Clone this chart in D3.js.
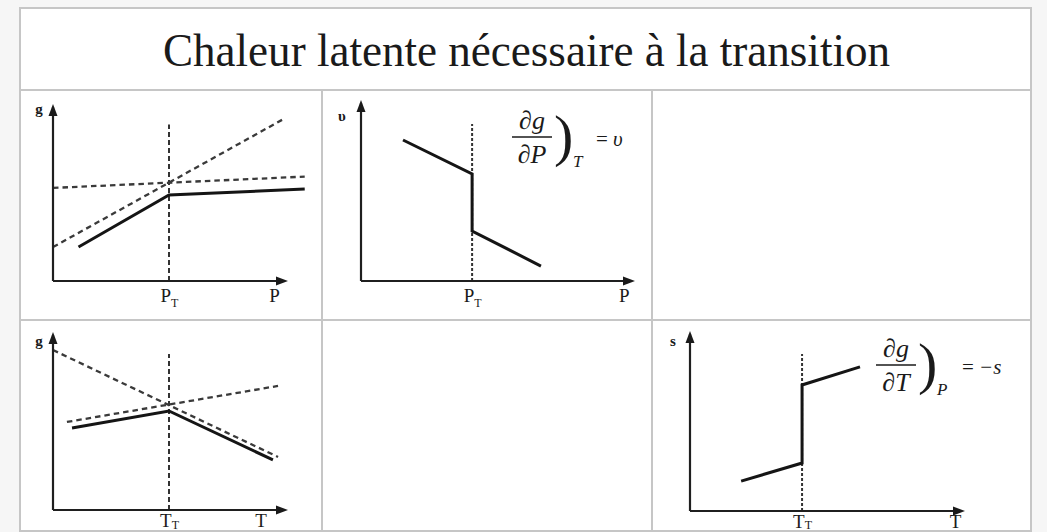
<!DOCTYPE html>
<html>
<head>
<meta charset="utf-8">
<script src="https://cdn.jsdelivr.net/npm/d3@7"></script>
<style>
  html, body { margin: 0; padding: 0; background: #f6f6f6; }
  svg { display: block; }
  text { font-family: "Liberation Serif", "DejaVu Serif", serif; fill: #1a1a1a; }
</style>
</head>
<body>
<svg id="chart" width="1047" height="532"></svg>
<script>
// ---- content -------------------------------------------------------------
const title = "Chaleur latente nécessaire à la transition";

// g(P) at constant T: the two phase branches and the stable branch
const gP_phase1 = [[0, 1.95], [9.9, 9.28]];
const gP_phase2 = [[0, 5.35], [10.85, 6.0]];
const gP_stable = [[1.1, 1.95], [5.0, 4.94], [10.85, 5.29]];
const gP_transition = 5.0;
const gP_guideTop = 9.0;
const gP_tickValues = [5.0, 9.53];
const gP_tickLabels = [["P", "T"], ["P", ""]];

// v(P): jump of the volume at the transition
const vP_volume = [[1.55, 7.92], [4.1, 6.01], [4.1, 2.81], [6.64, 0.84]];
const vP_transition = 4.1;
const vP_guideTop = 8.82;
const vP_tickValues = [4.1, 9.7];
const vP_tickLabels = [["P", "T"], ["P", ""]];

// g(T) at constant P
const gT_phase1 = [[0, 9.14], [9.7, 3.03]];
const gT_phase2 = [[0.6, 5.03], [9.7, 7.09]];
const gT_stable = [[0.82, 4.69], [5.0, 5.66], [9.48, 2.86]];
const gT_transition = 5.0;
const gT_guideTop = 8.91;
const gT_tickValues = [5.0, 8.95];
const gT_tickLabels = [["T", "T"], ["T", ""]];

// s(T): jump of the entropy at the transition
const sT_entropy = [[1.88, 1.69], [4.12, 2.71], [4.12, 7.12], [6.25, 8.14]];
const sT_transition = 4.12;
const sT_guideTop = 8.87;
const sT_tickValues = [4.12, 9.74];
const sT_tickLabels = [["T", "T"], ["T", ""]];

// ---- drawing -------------------------------------------------------------
const svg = d3.select("#chart");

const defs = svg.append("defs");
defs.append("marker")
  .attr("id", "arrow")
  .attr("viewBox", "0 -5 12 10")
  .attr("refX", 9).attr("refY", 0)
  .attr("markerWidth", 12).attr("markerHeight", 10)
  .attr("markerUnits", "userSpaceOnUse")
  .attr("orient", "auto")
  .append("path").attr("d", "M0,-4.5L12,0L0,4.5Z").attr("fill", "#1a1a1a");

// table frame
const colX = [20, 322, 652, 1031];
const rowY = [8, 90, 320, 531];
const grid = svg.append("g");
grid.append("rect")
  .attr("x", colX[0]).attr("y", rowY[0])
  .attr("width", colX[3] - colX[0]).attr("height", rowY[3] - rowY[0])
  .attr("fill", "#ffffff").attr("stroke", "#c6c6c6").attr("stroke-width", 2);
rowY.slice(1, 3).forEach(y => grid.append("line")
  .attr("x1", colX[0]).attr("x2", colX[3]).attr("y1", y).attr("y2", y)
  .attr("stroke", "#c6c6c6").attr("stroke-width", 2));
colX.slice(1, 3).forEach(x => grid.append("line")
  .attr("x1", x).attr("x2", x).attr("y1", rowY[1]).attr("y2", rowY[3])
  .attr("stroke", "#c6c6c6").attr("stroke-width", 2));

svg.append("text")
  .attr("x", 526.5).attr("y", 66)
  .attr("text-anchor", "middle")
  .attr("font-size", 47)
  .attr("textLength", 727).attr("lengthAdjust", "spacingAndGlyphs")
  .text(title);

const line = (x, y) => d3.line().x(d => x(d[0])).y(d => y(d[1]));

function panel(cfg) {
  const g = svg.append("g");
  const x = d3.scaleLinear().domain([0, 10]).range([cfg.ox, cfg.xEnd]);
  const y = d3.scaleLinear().domain([0, 10]).range([cfg.oy, cfg.yTop]);

  // tick labels through a bottom axis (no tick marks, no domain)
  const ax = g.append("g")
    .attr("transform", `translate(0,${cfg.oy})`)
    .call(d3.axisBottom(x).tickValues(cfg.tickValues).tickSize(0).tickPadding(cfg.tickPad).tickFormat(""));
  ax.select(".domain").remove();
  ax.selectAll(".tick text")
    .attr("font-size", 19).attr("font-family", null).attr("fill", "#1a1a1a")
    .each(function (d, i) {
      const t = d3.select(this);
      const lab = cfg.tickLabels[i];
      t.append("tspan").text(lab[0]);
      if (lab[1]) t.append("tspan").attr("font-size", 12).attr("dy", cfg.subShift).text(lab[1]);
    });

  // transition guide
  g.append("line")
    .attr("x1", x(cfg.transition)).attr("x2", x(cfg.transition))
    .attr("y1", y(0)).attr("y2", y(cfg.guideTop))
    .attr("stroke", "#333").attr("stroke-width", 2)
    .attr("stroke-dasharray", cfg.guideDash);

  // dashed phase branches
  (cfg.dashed || []).forEach(data => g.append("path")
    .attr("d", line(x, y)(data))
    .attr("fill", "none").attr("stroke", "#3a3a3a").attr("stroke-width", 2.3)
    .attr("stroke-dasharray", "5.5,4"));

  // solid curve
  g.append("path")
    .attr("d", line(x, y)(cfg.solid))
    .attr("fill", "none").attr("stroke", "#151515").attr("stroke-width", 3)
    .attr("stroke-linejoin", "miter");

  // axes with arrowheads
  g.append("path")
    .attr("d", line(x, y)([[0, 0], [0, 10]]))
    .attr("stroke", "#1f1f1f").attr("stroke-width", 2.2).attr("fill", "none")
    .attr("marker-end", "url(#arrow)");
  g.append("path")
    .attr("d", line(x, y)([[0, 0], [10, 0]]))
    .attr("stroke", "#1f1f1f").attr("stroke-width", 2.2).attr("fill", "none")
    .attr("marker-end", "url(#arrow)");

  g.append("text")
    .attr("x", cfg.yLabelPos[0]).attr("y", cfg.yLabelPos[1])
    .attr("text-anchor", "middle").attr("font-size", 15).attr("font-weight", "bold")
    .text(cfg.yLabel);
  return g;
}

panel({
  ox: 53, oy: 281, xEnd: 285, yTop: 107,
  solid: gP_stable, dashed: [gP_phase1, gP_phase2],
  transition: gP_transition, guideTop: gP_guideTop, guideDash: "5,3",
  tickValues: gP_tickValues, tickLabels: gP_tickLabels, tickPad: 8, subShift: 5,
  yLabel: "g", yLabelPos: [39, 114]
});

const p2 = panel({
  ox: 361, oy: 281, xEnd: 632, yTop: 103,
  solid: vP_volume,
  transition: vP_transition, guideTop: vP_guideTop, guideDash: "3,2",
  tickValues: vP_tickValues, tickLabels: vP_tickLabels, tickPad: 8, subShift: 5,
  yLabel: "υ", yLabelPos: [342, 121]
});

panel({
  ox: 53, oy: 510, xEnd: 285, yTop: 335,
  solid: gT_stable, dashed: [gT_phase1, gT_phase2],
  transition: gT_transition, guideTop: gT_guideTop, guideDash: "5,3",
  tickValues: gT_tickValues, tickLabels: gT_tickLabels, tickPad: 4, subShift: 2,
  yLabel: "g", yLabelPos: [39, 346]
});

const p4 = panel({
  ox: 690, oy: 511, xEnd: 962, yTop: 334,
  solid: sT_entropy,
  transition: sT_transition, guideTop: sT_guideTop, guideDash: "3,2",
  tickValues: sT_tickValues, tickLabels: sT_tickLabels, tickPad: 3, subShift: 2,
  yLabel: "s", yLabelPos: [673, 346]
});

// partial derivative formulas
function derivative(g, o) {
  const f = g.append("g").attr("transform", `translate(${o.x},${o.y})`);
  f.append("text").attr("x", 0).attr("y", -8).attr("text-anchor", "middle")
    .attr("font-size", 26).attr("font-style", "italic").text("∂g");
  f.append("line").attr("x1", -20).attr("x2", 20).attr("y1", 0).attr("y2", 0)
    .attr("stroke", "#1a1a1a").attr("stroke-width", 1.6);
  f.append("text").attr("x", 0).attr("y", 26).attr("text-anchor", "middle")
    .attr("font-size", 26).attr("font-style", "italic").text("∂" + o.den);
  f.append("text").attr("x", 22).attr("y", 18).attr("font-size", 58)
    .attr("font-weight", "300").text(")");
  f.append("text").attr("x", 41).attr("y", 30).attr("font-size", 17)
    .attr("font-style", "italic").text(o.sub);
  const rhs = f.append("text").attr("x", o.eqX).attr("y", 9).attr("font-size", 21);
  rhs.append("tspan").text("= ");
  rhs.append("tspan").attr("font-style", "italic").text(o.rhs);
}
derivative(p2, { x: 532, y: 137, den: "P", sub: "T", eqX: 64, rhs: "υ" });
derivative(p4, { x: 896, y: 365, den: "T", sub: "P", eqX: 66, rhs: "−s" });
</script>
</body>
</html>
